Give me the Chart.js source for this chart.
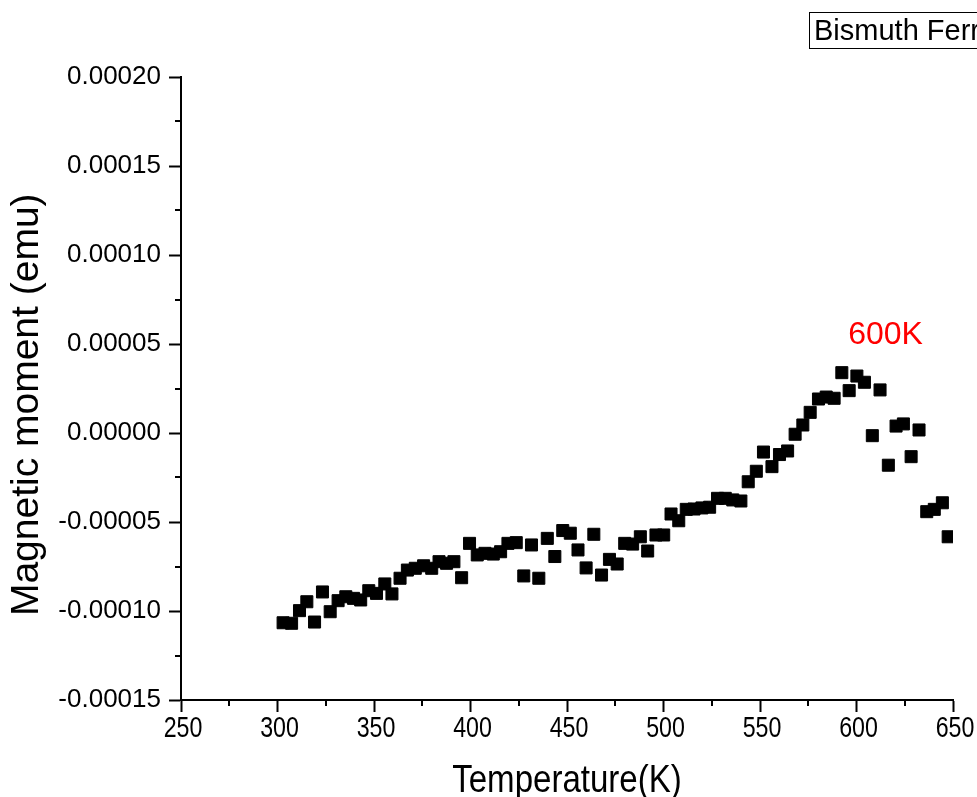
<!DOCTYPE html>
<html>
<head>
<meta charset="utf-8">
<script src="https://cdn.jsdelivr.net/npm/chart.js@4.4.1/dist/chart.umd.min.js"></script>
<style>
  html, body { margin: 0; padding: 0; background: #fff; }
</style>
</head>
<body>
<canvas id="magChart" width="977" height="797"></canvas>
<script>
// Temperature (K)
const temperature = [
  302.9, 307.3, 311.4, 315.2, 319.2, 323.3, 327.3, 331.4, 335.4, 339.4,
  343.1, 347.3, 351.3, 355.6, 359.3, 363.5, 367.3, 371.4, 375.7, 379.9,
  383.7, 387.6, 391.4, 395.4, 399.5, 403.5, 407.5, 411.8, 415.6, 419.4,
  423.7, 427.6, 431.6, 435.4, 439.8, 443.7, 447.8, 451.7, 455.7, 459.9,
  463.9, 467.9, 472.0, 476.0, 479.9, 484.0, 488.0, 491.8, 496.1, 500.1,
  503.9, 507.9, 511.8, 515.8, 519.9, 523.9, 528.0, 532.0, 535.9, 540.1,
  543.9, 548.1, 551.8, 556.2, 560.1, 564.3, 568.2, 572.2, 576.0, 580.3,
  584.3, 588.4, 592.4, 596.2, 600.2, 604.1, 608.2, 612.2, 616.5, 620.5,
  624.3, 628.3, 632.4, 636.4, 640.3, 644.5, 647.5
];

// Magnetic moment (emu)
const moment = [
  -10.66e-5, -10.69e-5, -9.98e-5, -9.48e-5, -10.62e-5, -8.93e-5, -10.04e-5, -9.42e-5, -9.20e-5, -9.29e-5,
  -9.38e-5, -8.86e-5, -9.01e-5, -8.48e-5, -9.04e-5, -8.16e-5, -7.70e-5, -7.60e-5, -7.46e-5, -7.60e-5,
  -7.23e-5, -7.32e-5, -7.23e-5, -8.13e-5, -6.20e-5, -6.85e-5, -6.76e-5, -6.80e-5, -6.67e-5, -6.20e-5,
  -6.16e-5, -8.03e-5, -6.29e-5, -8.16e-5, -5.92e-5, -6.94e-5, -5.48e-5, -5.63e-5, -6.57e-5, -7.58e-5,
  -5.69e-5, -7.98e-5, -7.10e-5, -7.36e-5, -6.20e-5, -6.24e-5, -5.83e-5, -6.63e-5, -5.73e-5, -5.73e-5,
  -4.55e-5, -4.93e-5, -4.29e-5, -4.27e-5, -4.21e-5, -4.17e-5, -3.67e-5, -3.67e-5, -3.76e-5, -3.82e-5,
  -2.74e-5, -2.15e-5, -1.07e-5, -1.89e-5, -1.21e-5, -1.01e-5, -0.07e-5, 0.45e-5, 1.16e-5, 1.91e-5,
  2.02e-5, 1.95e-5, 3.39e-5, 2.38e-5, 3.20e-5, 2.85e-5, -0.15e-5, 2.42e-5, -1.81e-5, 0.39e-5,
  0.51e-5, -1.33e-5, 0.17e-5, -4.42e-5, -4.29e-5, -3.92e-5, -5.83e-5
];

// Axis ranges and steps
const xRange = [250, 650];
const xMajorStep = 50;
const yRange = [-0.00015, 0.0002];
const yMajorStep = 0.00005;

const seriesName = 'Bismuth Ferrite';
const xTitle = 'Temperature(K)';
const yTitle = 'Magnetic moment (emu)';
const peakText = '600K';
const peakAt = [595.7, 0.00005]; // where the label sits (K, emu)

const points = temperature.map((t, i) => ({ x: t, y: moment[i] }));

const isMajor = (v, step) => Math.abs(Math.round(v / (step / 2))) % 2 === 0;
const sans = '"Liberation Sans", Arial, sans-serif';

// minor ticks are drawn shorter than Chart.js's own ticks
const minorTicks = {
  id: 'minorTicks',
  afterDraw(chart) {
    const c = chart.ctx;
    const xs = chart.scales.x;
    const ys = chart.scales.y;
    c.save();
    c.strokeStyle = '#000';
    c.lineWidth = 2;
    c.beginPath();
    for (let v = xRange[0] + xMajorStep / 2; v < xRange[1]; v += xMajorStep) {
      const px = Math.round(xs.getPixelForValue(v));
      c.moveTo(px, ys.bottom);
      c.lineTo(px, ys.bottom + 6);
    }
    for (let k = 1; k < 14; k += 2) {
      const py = Math.round(ys.getPixelForValue(yRange[0] + k * yMajorStep / 2));
      c.moveTo(xs.left, py);
      c.lineTo(xs.left - 6, py);
    }
    c.stroke();
    c.restore();
  }
};

// x labels and title are in a narrow face: squeeze Liberation Sans
const xLabels = {
  id: 'xLabels',
  afterDraw(chart) {
    const c = chart.ctx;
    const xs = chart.scales.x;
    c.save();
    c.fillStyle = '#000';
    c.textAlign = 'center';
    c.textBaseline = 'alphabetic';
    c.font = '29px ' + sans;
    xs.ticks.forEach((t) => {
      if (!isMajor(t.value, xMajorStep)) return;
      c.save();
      c.translate(xs.getPixelForValue(t.value) + 2, xs.top + 37);
      c.scale(0.8, 1);
      c.fillText(String(Math.round(t.value)), 0, 0);
      c.restore();
    });
    c.font = '38px ' + sans;
    c.translate((xs.left + xs.right) / 2, 792);
    c.scale(0.87, 1);
    c.fillText(xTitle, 0, 0);
    c.restore();
  }
};

// legend box (cut at the edge) and the red 600K note
const notes = {
  id: 'notes',
  afterDraw(chart) {
    const c = chart.ctx;
    c.save();
    c.strokeStyle = '#000';
    c.lineWidth = 1;
    c.strokeRect(809.5, 12.5, 300, 36);
    c.fillStyle = '#000';
    c.font = '29px ' + sans;
    c.textBaseline = 'alphabetic';
    c.textAlign = 'left';
    c.fillText(seriesName, 814, 40);

    c.fillStyle = '#ff0000';
    c.font = '32px ' + sans;
    c.fillText(peakText, chart.scales.x.getPixelForValue(peakAt[0]), chart.scales.y.getPixelForValue(peakAt[1]));
    c.restore();
  }
};

new Chart(document.getElementById('magChart'), {
  type: 'scatter',
  data: {
    datasets: [{
      label: seriesName,
      data: points,
      pointStyle: 'rect',
      radius: 8.5,
      backgroundColor: '#000',
      borderColor: '#000',
      borderWidth: 1,
    }]
  },
  options: {
    responsive: false,
    animation: false,
    devicePixelRatio: 1,
    layout: { padding: { top: 77, right: 24, left: 0, bottom: 0 } },
    plugins: {
      legend: { display: false },
      tooltip: { enabled: false },
    },
    scales: {
      x: {
        type: 'linear',
        min: xRange[0],
        max: xRange[1],
        afterFit(scale) { scale.height = 97; },
        border: { display: true, color: '#000', width: 2 },
        grid: {
          drawOnChartArea: false,
          drawTicks: true,
          tickLength: 12,
          tickWidth: 2,
          tickColor: (c) => (c.tick && isMajor(c.tick.value, xMajorStep)) ? '#000' : 'rgba(0,0,0,0)',
        },
        ticks: {
          display: false,
          stepSize: xMajorStep / 2,
          autoSkip: false,
        },
        title: { display: false },
      },
      y: {
        type: 'linear',
        min: yRange[0],
        max: yRange[1],
        afterFit(scale) { scale.width = 181; },
        border: { display: true, color: '#000', width: 2 },
        grid: {
          drawOnChartArea: false,
          drawTicks: true,
          tickLength: 12,
          tickWidth: 2,
          tickColor: (c) => (c.tick && isMajor(c.tick.value, yMajorStep)) ? '#000' : 'rgba(0,0,0,0)',
        },
        ticks: {
          stepSize: yMajorStep / 2,
          autoSkip: false,
          padding: 8,
          color: '#000',
          font: { family: sans, size: 26 },
          callback: (v) => {
            if (!isMajor(v, yMajorStep)) return '';
            return (Math.abs(v) < 1e-9 ? 0 : v).toFixed(5);
          },
        },
        title: {
          display: true,
          // trailing spaces push the centred title down a little, as in the original
          text: yTitle + '   ',
          color: '#000',
          font: { family: sans, size: 39, lineHeight: 1 },
          padding: { top: 8, bottom: 0 },
        },
      },
    },
  },
  plugins: [minorTicks, xLabels, notes],
});
</script>
</body>
</html>
